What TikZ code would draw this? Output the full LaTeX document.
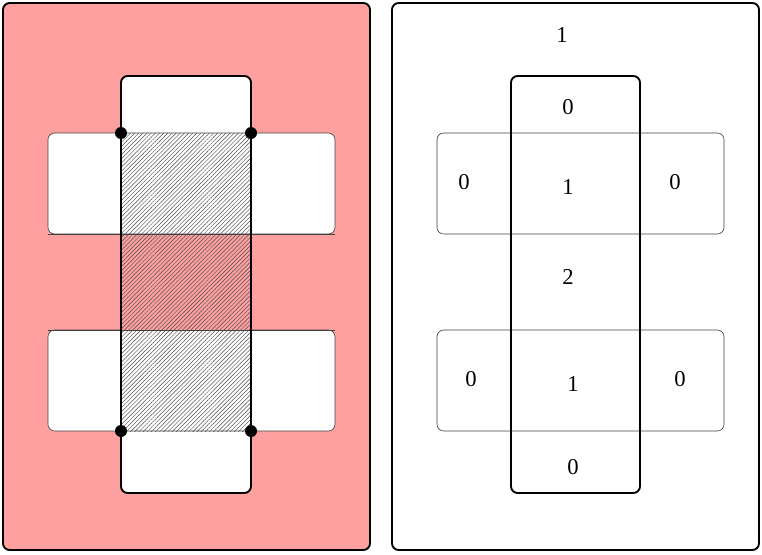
\documentclass[tikz,border=0pt]{standalone}
\usepackage{fontspec}
\setmainfont{Liberation Serif}
\usetikzlibrary{patterns.meta}
\definecolor{pinkred}{RGB}{255,160,160}
\begin{document}
\begin{tikzpicture}[x=0.75pt,y=-0.75pt,
  panel/.style={draw=black,line width=1.4pt,rounded corners=5pt},
  vbox/.style={draw=black,line width=1.4pt,rounded corners=5pt},
  hbox/.style={draw=black!75,line width=0.45pt,rounded corners=5pt},
  hatch/.style={pattern={Lines[angle=45,distance=2.2pt,line width=0.35pt]},pattern color=black!70},
  dot/.style={circle,fill=black,inner sep=0pt,minimum size=9pt},
  lbl/.style={font=\fontsize{17}{20}\selectfont}]
\useasboundingbox (0,0) rectangle (762,554);
% left panel
\draw[panel,fill=pinkred] (3,3) rectangle (370,550);
\fill[white,rounded corners=5pt] (121,76) rectangle (251,493);
\draw[hbox,fill=white] (48,133) rectangle (335,234);
\draw[hbox,fill=white] (48,330) rectangle (335,431);
\fill[pinkred] (121,234) rectangle (251,330);
\fill[hatch] (121,133) rectangle (251,431);
\draw[black!75,line width=0.45pt] (48,234) -- (335,234) (48,330) -- (335,330);
\draw[vbox] (121,76) rectangle (251,493);
\node[dot] (d1) at (121,133) {};
\node[dot] (d2) at (251,133) {};
\node[dot] (d3) at (121,431) {};
\node[dot] (d4) at (251,431) {};
% right panel
\draw[panel,fill=white] (392,3) rectangle (759,550);
\draw[hbox] (437,133) rectangle (724,234);
\draw[hbox] (437,330) rectangle (724,431);
\draw[vbox] (511,76) rectangle (640,493);
\node[lbl] (a) at (562,35) {1};
\node[lbl] (b) at (568,107) {0};
\node[lbl] (c) at (464,182) {0};
\node[lbl] (d) at (568,187) {1};
\node[lbl] (e) at (675,182) {0};
\node[lbl] (f) at (568,277) {2};
\node[lbl] (g) at (471,379) {0};
\node[lbl] (h) at (573,384) {1};
\node[lbl] (i) at (680,379) {0};
\node[lbl] (j) at (573,467) {0};
\end{tikzpicture}
\end{document}
